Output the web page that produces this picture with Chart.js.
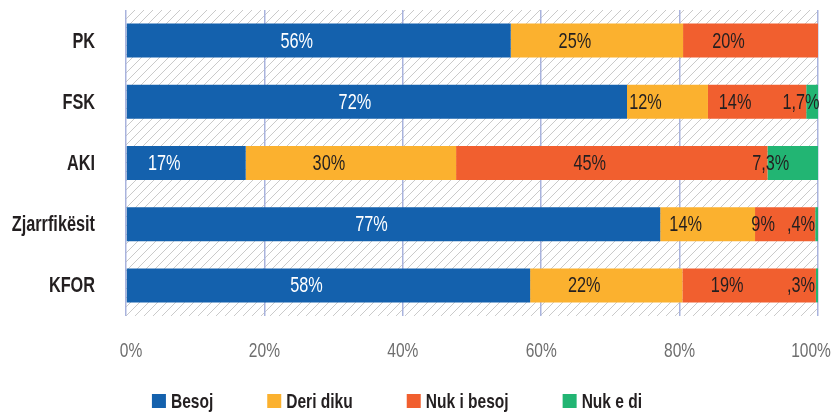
<!DOCTYPE html>
<html>
<head>
<meta charset="utf-8">
<script src="https://cdn.jsdelivr.net/npm/chart.js@4.4.0/dist/chart.umd.min.js"></script>
<style>
  html, body { margin: 0; padding: 0; background: #fff; }
  #wrap { width: 834px; height: 412px; position: relative; }
</style>
</head>
<body>
<div id="wrap"><canvas id="myBarChart"></canvas></div>
<script>
// data (percent of each row)
var categories = ["PK", "FSK", "AKI", "Zjarrfikësit", "KFOR"];
var besoj     = [55.6, 72.4, 17.3, 77.2, 58.4];
var deriDiku  = [24.9, 11.7, 30.4, 13.7, 22.0];
var nukBesoj  = [19.5, 14.2, 45.0,  8.7, 19.3];
var nukEDi    = [ 0.0,  1.7,  7.3,  0.4,  0.3];
var seriesNames = ["Besoj", "Deri diku", "Nuk i besoj", "Nuk e di"];
var xTicks = [0, 20, 40, 60, 80, 100];

// no condensed font installed, so squeeze Liberation Sans sideways
var FONT = "'Liberation Sans', Arial, sans-serif";
var SX = 0.74;
var colors = ["#1461ad", "#fbb12f", "#f15f2f", "#22b573"];
var textColors = ["#ffffff", "#231f20", "#231f20", "#231f20"];

// how the source prints its numbers: ",4%"  "1,7%"  "56%"
function fmt(v) {
    if (v < 1) return "," + Math.round(v * 10) + "%";
    if (v < 8) return v.toFixed(1).replace(".", ",") + "%";
    return Math.round(v) + "%";
}

function narrowText(c, txt, x, y, align) {
    c.save();
    c.translate(x, y);
    c.scale(SX, 1);
    c.textAlign = align;
    c.fillText(txt, 0, 0);
    c.restore();
}

// hatched background behind the plot area
var hatchPlugin = {
    id: 'hatch',
    beforeDraw: function(chart) {
        var c = chart.ctx, a = chart.chartArea;
        c.save();
        c.fillStyle = "#fff";
        c.fillRect(0, 0, chart.width, chart.height);
        c.beginPath();
        c.rect(a.left, a.top, a.right - a.left, a.bottom - a.top);
        c.clip();
        c.strokeStyle = "#cacaca";
        c.lineWidth = 1;
        var h = a.bottom - a.top;
        for (var x = a.left - h; x < a.right + 9; x += 9) {
            c.beginPath();
            c.moveTo(x, a.bottom);
            c.lineTo(x + h, a.top);
            c.stroke();
        }
        c.restore();
    }
};

// value labels inside the segments
var labelPlugin = {
    id: 'segLabels',
    afterDatasetsDraw: function(chart) {
        var c = chart.ctx;
        c.save();
        c.font = "22px " + FONT;
        c.textBaseline = "middle";
        chart.data.datasets.forEach(function(ds, i) {
            var meta = chart.getDatasetMeta(i);
            meta.data.forEach(function(bar, j) {
                var v = ds.data[j];
                if (!v) return;
                var x = (bar.x + bar.base) / 2 - 22;
                if (v < 3) x = bar.x - 17;
                c.fillStyle = textColors[i];
                narrowText(c, fmt(v), x, bar.y + 1, "center");
            });
        });
        c.restore();
    }
};

// axis labels and legend
var textPlugin = {
    id: 'axisText',
    afterDraw: function(chart) {
        var c = chart.ctx, a = chart.chartArea;
        var xs = chart.scales.x, ys = chart.scales.y;
        c.save();
        c.textBaseline = "middle";

        c.font = "bold 22px " + FONT;
        c.fillStyle = "#231f20";
        categories.forEach(function(cat, j) {
            narrowText(c, cat, a.left - 31, ys.getPixelForValue(j) + 1, "right");
        });

        c.font = "21px " + FONT;
        c.fillStyle = "#6e6e6e";
        xTicks.forEach(function(v) {
            var x = xs.getPixelForValue(v);
            if (v === 0) x += 5;
            if (v === 100) x -= 7;
            narrowText(c, v + "%", x, a.bottom + 35, "center");
        });

        c.font = "bold 21px " + FONT;
        var gap = 54, box = 14, total = 0;
        var widths = chart.data.datasets.map(function(ds) {
            return box + 5 + c.measureText(ds.label).width * SX;
        });
        widths.forEach(function(w) { total += w; });
        total += gap * (widths.length - 1);
        var x = 397 - total / 2, y = 401;
        chart.data.datasets.forEach(function(ds, i) {
            c.fillStyle = ds.backgroundColor;
            c.fillRect(x, y - box / 2, box, box);
            c.fillStyle = "#231f20";
            narrowText(c, ds.label, x + box + 5, y + 1, "left");
            x += widths[i] + gap;
        });
        c.restore();
    }
};

var ctx = document.getElementById('myBarChart').getContext('2d');
var chart = new Chart(ctx, {
    type: 'bar',
    data: {
        labels: categories,
        datasets: [
            { label: seriesNames[0], data: besoj,    backgroundColor: colors[0] },
            { label: seriesNames[1], data: deriDiku, backgroundColor: colors[1] },
            { label: seriesNames[2], data: nukBesoj, backgroundColor: colors[2] },
            { label: seriesNames[3], data: nukEDi,   backgroundColor: colors[3] }
        ]
    },
    options: {
        indexAxis: 'y',
        responsive: true,
        maintainAspectRatio: false,
        animation: false,
        layout: { padding: { top: 10, right: 16, left: 0, bottom: 0 } },
        datasets: { bar: { categoryPercentage: 1, barPercentage: 0.556 } },
        plugins: { legend: { display: false }, tooltip: { enabled: false } },
        scales: {
            x: {
                stacked: true,
                min: 0,
                max: 100,
                afterBuildTicks: function(scale) {
                    scale.ticks = xTicks.map(function(v) { return { value: v }; });
                },
                afterFit: function(scale) {
                    scale.height = 96;
                    scale.paddingLeft = 0;
                    scale.paddingRight = 0;
                },
                ticks: { display: false },
                grid: { color: "#a9b3dd", lineWidth: 1.5, drawTicks: false },
                border: { display: false }
            },
            y: {
                stacked: true,
                afterFit: function(scale) {
                    scale.width = 126;
                    scale.paddingTop = 0;
                    scale.paddingBottom = 0;
                },
                ticks: { display: false },
                grid: { display: false, drawTicks: false },
                border: { display: false }
            }
        }
    },
    plugins: [hatchPlugin, labelPlugin, textPlugin]
});
</script>
</body>
</html>
